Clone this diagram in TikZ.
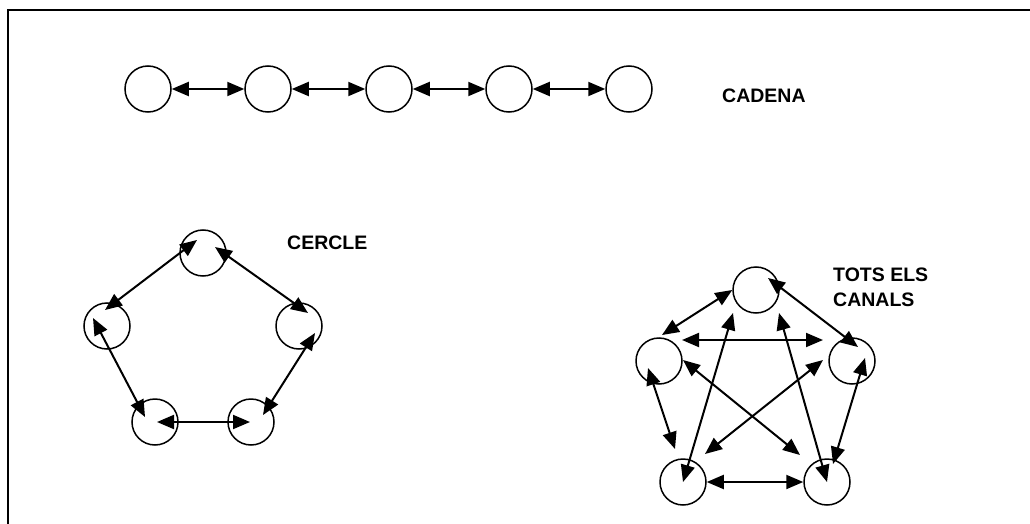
\documentclass[tikz,border=0pt]{standalone}
\usepackage{fontspec}
\setmainfont{Liberation Sans}
\usetikzlibrary{arrows.meta}

\tikzset{
  bola/.style={circle,draw,line width=1.5pt,minimum size=46pt,inner sep=0pt},
  fletxa/.style={{Triangle[length=17pt,width=14pt]}-{Triangle[length=17pt,width=14pt]},line width=2pt},
  titol/.style={anchor=west,font=\fontsize{19.5}{25}\selectfont\bfseries,inner sep=0pt,align=left}
}

\begin{document}
\begin{tikzpicture}[x=1pt,y=-1pt]
  \useasboundingbox (0,0) rectangle (1030,524);
  % marc
  \draw[line width=1.5pt] (8,524) -- (8,10) -- (1030,10);

  % cadena
  \node[bola](k1)at(148,89){};
  \node[bola](k2)at(268,89){};
  \node[bola](k3)at(389,89){};
  \node[bola](k4)at(509,89){};
  \node[bola](k5)at(629,89){};
  \draw[fletxa] (k1.east)--(k2.west);
  \draw[fletxa] (k2.east)--(k3.west);
  \draw[fletxa] (k3.east)--(k4.west);
  \draw[fletxa] (k4.east)--(k5.west);
  \node[titol](cadena)at(722,96){CADENA};

  % cercle
  \node[bola](c1)at(203,253){};
  \node[bola](c2)at(299,326){};
  \node[bola](c3)at(251,422){};
  \node[bola](c4)at(155,422){};
  \node[bola](c5)at(107,326){};
  \draw[fletxa] ([shift={(-6,-13)}]c1.center)--([shift={(-2,-16)}]c5.center);
  \draw[fletxa] ([shift={(12,-6)}]c1.center)--([shift={(9,-13)}]c2.center);
  \draw[fletxa] ([shift={(16,7)}]c2.center)--([shift={(12,-7)}]c3.center);
  \draw[fletxa] ([shift={(-1,0)}]c3.center)--([shift={(2,0)}]c4.center);
  \draw[fletxa] ([shift={(-10,-5)}]c4.center)--([shift={(-14,-8)}]c5.center);
  \node[titol](cercle)at(287,243){CERCLE};

  % tots els canals
  \node[bola](t1)at(756,290){};
  \node[bola](t2)at(852,361){};
  \node[bola](t3)at(827,482){};
  \node[bola](t4)at(683,482){};
  \node[bola](t5)at(659,361){};
  \draw[fletxa] (t1.west)--([shift={(3,-26)}]t5.center);
  \draw[fletxa] ([shift={(12,-12)}]t1.center)--([shift={(6,-14)}]t2.center);
  \draw[fletxa] ([shift={(23,-21)}]t5.center)--([shift={(-29,-21)}]t2.center);
  \draw[fletxa] ([shift={(-11,7)}]t5.center)--([shift={(-8,-33)}]t4.center);
  \draw[fletxa] (t4.east)--(t3.west);
  \draw[fletxa] ([shift={(13,-3)}]t2.center)--([shift={(6,-18)}]t3.center);
  \draw[fletxa] (t4.center)--([shift={(-23,23)}]t1.center);
  \draw[fletxa] (t3.center)--([shift={(23,23)}]t1.center);
  \draw[fletxa] ([shift={(24,-1)}]t5.center)--([shift={(-27,-27)}]t3.center);
  \draw[fletxa] ([shift={(-29,-1)}]t2.center)--([shift={(22,-28)}]t4.center);
  \node[titol](canals)at(833,287){TOTS ELS\\CANALS};
\end{tikzpicture}
\end{document}
